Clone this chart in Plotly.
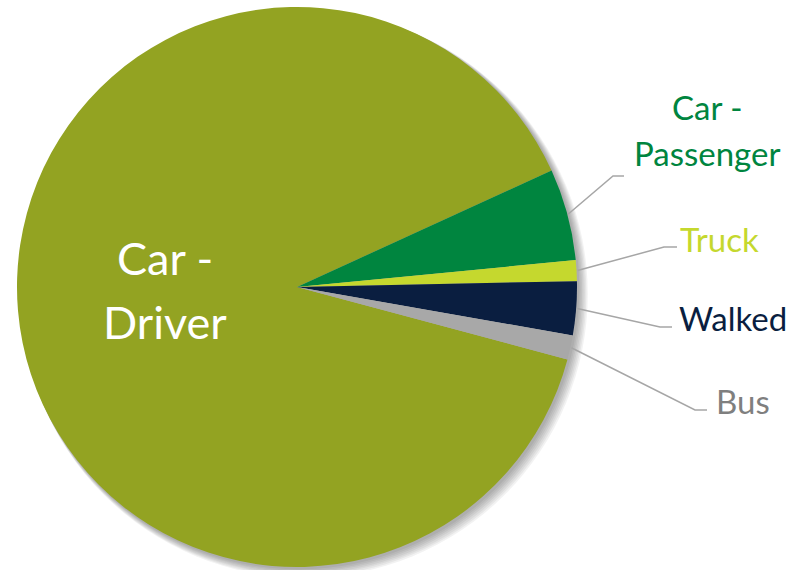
import math
import plotly.graph_objects as go

# ---- data ----
categories = ["Car - Driver", "Car - Passenger", "Truck", "Walked", "Bus"]
shares = [89.0, 5.3, 1.2, 3.1, 1.4]
slice_colors = ["#93A322", "#00853F", "#C5D82E", "#0A1E40", "#A8A8A8"]
label_colors = ["#FFFFFF", "#00853F", "#C5D82E", "#0A1E40", "#7F7F7F"]

W, H = 791, 570
CX, CY, R = 297, 287, 280
ROT = 105  # degrees clockwise from 12 o'clock for the first slice

def px(x):
    return x / W

def py(y):
    return 1 - y / H

def domain(cx, cy, r):
    return dict(x=[px(cx - r), px(cx + r)], y=[py(cy + r), py(cy - r)])

fig = go.Figure()

# soft shadow (offset down-right), drawn beneath the pie
for i in range(1, 8):
    d = 1.0 + i * 0.9
    rr = R + i * 0.5
    fig.add_shape(type="circle", xref="paper", yref="paper", layer="below",
                  x0=px(CX + d - rr), x1=px(CX + d + rr),
                  y0=py(CY + d + rr), y1=py(CY + d - rr),
                  fillcolor="rgba(0,0,0,0.05)", line=dict(width=0))

fig.add_trace(go.Pie(
    labels=categories, values=shares, sort=False, direction="clockwise",
    rotation=ROT, marker=dict(colors=slice_colors, line=dict(width=0)),
    textinfo="none", hoverinfo="label+percent", showlegend=False,
    domain=domain(CX, CY, R)))

FONT = "Lato, Calibri, Carlito, sans-serif"

# big inside label
for txt, y in [("Car -", 258), ("Driver", 322)]:
    fig.add_annotation(x=px(165), y=py(y), xref="paper", yref="paper",
                       text=txt, showarrow=False, xanchor="center", yanchor="middle",
                       font=dict(family=FONT, size=45, color=label_colors[0]))

# outside labels: (category index, lines [(text, x, y, xanchor)], bend point, end point)
outside = [
    (1, [("Car -", 707, 107, "center"), ("Passenger", 707, 153, "center")], (613, 176), (624, 176)),
    (2, [("Truck", 678, 239, "left")], (664, 247), (677, 247)),
    (3, [("Walked", 677, 318, "left")], (660, 327), (672, 327)),
    (4, [("Bus", 714, 400.5, "left")], (695, 410), (707, 410)),
]

total = sum(shares)
cum = [sum(shares[:i]) for i in range(len(shares))]

for idx, lines, bend, end in outside:
    for txt, x, y, xa in lines:
        fig.add_annotation(x=px(x), y=py(y), xref="paper", yref="paper",
                           text=txt, showarrow=False, xanchor=xa, yanchor="middle",
                           font=dict(family=FONT, size=33, color=label_colors[idx]))
    mid = math.radians(ROT + 360 * (cum[idx] + shares[idx] / 2) / total)
    sx = CX + (R + 1) * math.sin(mid)
    sy = CY - (R + 1) * math.cos(mid)
    fig.add_shape(type="path", xref="paper", yref="paper",
                  path=f"M {px(sx)} {py(sy)} L {px(bend[0])} {py(bend[1])} L {px(end[0])} {py(end[1])}",
                  line=dict(color="#A6A6A6", width=1.5))

fig.update_layout(width=W, height=H, margin=dict(l=0, r=0, t=0, b=0),
                  paper_bgcolor="white", plot_bgcolor="white", showlegend=False)

fig.write_html("out.html")
